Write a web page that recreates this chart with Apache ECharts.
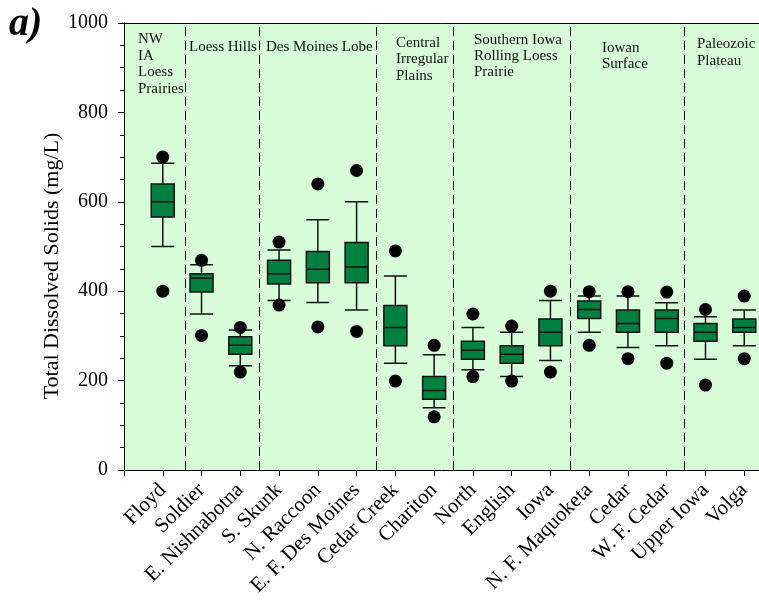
<!DOCTYPE html>
<html>
<head>
<meta charset="utf-8">
<script src="https://cdn.jsdelivr.net/npm/echarts@6/dist/echarts.min.js"></script>
<style>html,body{margin:0;padding:0;background:#fff}#c{width:759px;height:600px}</style>
</head>
<body>
<div id="c"></div>
<script>
// Categories (rivers), positioned 1..16 on the x axis
var categories = ['Floyd','Soldier','E. Nishnabotna','S. Skunk','N. Raccoon','E. F. Des Moines','Cedar Creek','Chariton','North','English','Iowa','N. F. Maquoketa','Cedar','W. F. Cedar','Upper Iowa','Volga'];
// Box statistics
var whiskerLow  = [500,349,233,379,375,358,239,139,224,209,245,308,274,278,248,278];
var q1          = [566,398,259,416,419,419,278,158,248,239,278,339,308,308,288,308];
var median      = [600,429,279,439,449,454,319,178,268,259,308,359,328,339,308,319];
var q3          = [640,439,298,469,489,509,368,209,288,278,338,378,358,358,328,338];
var whiskerHigh = [686,459,313,492,560,600,434,258,319,308,379,389,389,374,343,358];
// Outliers
var outlierHigh = [700,469,319,510,640,670,490,279,349,322,400,399,399,398,359,389];
var outlierLow  = [400,301,219,369,320,310,199,119,209,199,219,279,249,239,190,249];
// Region separators (x positions between categories)
var separators = [1.58, 3.5, 6.5, 8.5, 11.5, 14.45];
// Region labels
var regionLabels = [
  'NW\nIA\nLoess\nPrairies',
  'Loess Hills',
  'Des Moines Lobe',
  'Central\nIrregular\nPlains',
  'Southern Iowa\nRolling Loess\nPrairie',
  'Iowan\nSurface',
  'Paleozoic\nPlateau'
];
var yTicks = [0,200,400,600,800,1000];

var boxData = categories.map(function(c,i){
  return {value:[i+1, whiskerLow[i], q1[i], median[i], q3[i], whiskerHigh[i]]};
});
var outData = [];
categories.forEach(function(c,i){
  outData.push([i+1, outlierHigh[i]]);
  outData.push([i+1, outlierLow[i]]);
});

var serif = '"Liberation Serif","DejaVu Serif",serif';
var labelPos = [[138,31,16.6],[189,39,16.5],[266,39,16.5],[396,34.5,16.5],[474,32.5,16],[602,39.5,16.6],[697,36,16.6]];

var chart = echarts.init(document.getElementById('c'));
chart.setOption({
  animation:false,
  grid:{left:124, top:23, right:0, height:447, show:true, backgroundColor:'#d7fcd7', borderWidth:0, containLabel:false, outerBoundsMode:'none'},
  xAxis:[{
    type:'value', min:0, max:16.38, interval:1,
    axisLine:{show:true, onZero:false, lineStyle:{color:'#000', width:1}},
    axisTick:{show:true, inside:false, length:6, lineStyle:{color:'#000'}},
    splitLine:{show:false},
    axisLabel:{
      rotate:45, margin:17, color:'#000', fontFamily:serif, fontSize:21, showMaxLabel:false,
      formatter:function(v){ var i=Math.round(v); return (Math.abs(v-i)<1e-6 && i>=1 && i<=categories.length)?categories[i-1]:''; }
    }
  },{
    type:'value', position:'top', min:0, max:16.38,
    axisLine:{show:true, onZero:false, lineStyle:{color:'#000', width:1}},
    axisTick:{show:false}, axisLabel:{show:false}, splitLine:{show:false}
  }],
  yAxis:{
    type:'value', min:0, max:1000, interval:200,
    axisLine:{show:true, lineStyle:{color:'#000', width:1}},
    axisTick:{show:true, length:6, lineStyle:{color:'#000'}},
    minorTick:{show:true, splitNumber:4, length:4, lineStyle:{color:'#000'}},
    splitLine:{show:false},
    axisLabel:{margin:16, color:'#000', fontFamily:serif, fontSize:20,
      formatter:function(v){ return yTicks.indexOf(v)>=0 ? String(v) : ''; }}
  },
  series:[
    {
      type:'boxplot',
      data:boxData,
      boxWidth:[23,23],
      itemStyle:{color:'#00803f', borderColor:'#111', borderWidth:1.5},
      z:3
    },
    {
      type:'scatter',
      data:outData,
      symbol:'circle',
      symbolSize:13,
      itemStyle:{color:'#000', opacity:1},
      z:4,
      markLine:{
        silent:true, symbol:'none', label:{show:false},
        lineStyle:{color:'#000', width:1, type:[9,5], opacity:1},
        data:separators.map(function(s){return {xAxis:s};})
      }
    }
  ],
  graphic:[
    {type:'text', left:9, top:5, style:{text:'a)', font:'italic bold 40px '+serif, fill:'#000'}},
    {type:'text', x:52, y:266, rotation:Math.PI/2, style:{text:'Total Dissolved Solids (mg/L)', font:'22px '+serif, fill:'#000', align:'center', verticalAlign:'middle'}}
  ].concat(regionLabels.map(function(t,i){
    return {type:'text', x:labelPos[i][0], y:labelPos[i][1], z:10,
      style:{text:t, font:'15px '+serif, fill:'#111', lineHeight:labelPos[i][2], verticalAlign:'top'}};
  }))
});
</script>
</body>
</html>
